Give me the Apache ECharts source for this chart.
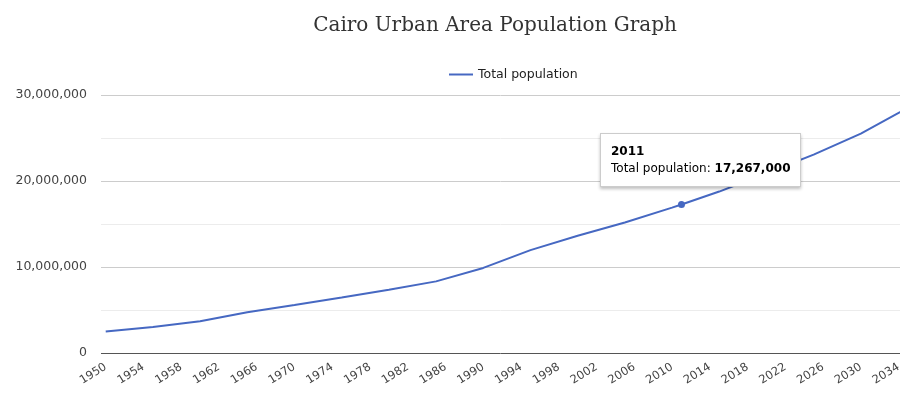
<!DOCTYPE html>
<html>
<head>
<meta charset="utf-8">
<script src="https://cdn.jsdelivr.net/npm/echarts@6/dist/echarts.min.js"></script>
<style>
html,body{margin:0;padding:0;background:#fff;}
#chart{width:900px;height:393px;}
</style>
</head>
<body>
<div id="chart"></div>
<script>
// Data
const years = [1950, 1955, 1960, 1965, 1970, 1975, 1980, 1985, 1990, 1995, 2000, 2005, 2010, 2011, 2015, 2020, 2025, 2030, 2035];
const population = [2494000, 3029000, 3680000, 4738000, 5585000, 6450000, 7349000, 8328000, 9892000, 11962000, 13626000, 15174000, 16899000, 17267000, 18772000, 20901000, 23074000, 25517000, 28504000];
const xTickLabels = [1950, 1954, 1958, 1962, 1966, 1970, 1974, 1978, 1982, 1986, 1990, 1994, 1998, 2002, 2006, 2010, 2014, 2018, 2022, 2026, 2030, 2034];
const highlightYear = 2011;
const seriesName = 'Total population';

const chart = echarts.init(document.getElementById('chart'), null, {renderer: 'canvas'});
const fmt = v => v.toLocaleString('en-US');

const seriesData = years.map((y, i) => {
  if (y === highlightYear) {
    return {value: [y, population[i]], symbol: 'circle', symbolSize: 7};
  }
  return [y, population[i]];
});

const option = {
  animation: false,
  title: {
    text: 'Cairo Urban Area Population Graph',
    left: 490,
    top: 11,
    textAlign: 'center',
    textStyle: {fontFamily: 'DejaVu Serif', fontWeight: 'normal', fontSize: 20, color: '#333'}
  },
  legend: {
    left: 444,
    top: 63,
    icon: 'rect',
    itemWidth: 24,
    itemHeight: 2,
    itemGap: 5,
    textStyle: {fontFamily: 'DejaVu Sans', fontSize: 12.5, color: '#222'},
    data: [seriesName]
  },
  tooltip: {
    trigger: 'item',
    alwaysShowContent: true,
    showDelay: 0,
    transitionDuration: 0,
    position: [600, 133],
    backgroundColor: '#fff',
    borderColor: '#ccc',
    borderWidth: 1,
    padding: [9, 10],
    extraCssText: 'box-shadow:0 2px 3px rgba(0,0,0,0.25);border-radius:0;',
    textStyle: {fontFamily: 'DejaVu Sans', fontSize: 12, color: '#000'},
    formatter: p => '<div style="font-family:DejaVu Sans;font-size:12px;line-height:17px;color:#000">' +
      '<b>' + p.value[0] + '</b><br/>' + p.seriesName + ': <b>' + fmt(p.value[1]) + '</b></div>'
  },
  grid: {left: 101, right: 0, top: 95, bottom: 40, outerBoundsMode: 'none', containLabel: false},
  xAxis: {
    type: 'value',
    min: 1949.5,
    max: 2034.15,
    axisLine: {show: false},
    axisTick: {show: false},
    splitLine: {show: false},
    axisLabel: {
      customValues: xTickLabels,
      rotate: 32,
      margin: 13,
      fontFamily: 'DejaVu Sans',
      fontSize: 11.5,
      color: '#444',
      formatter: v => String(v)
    }
  },
  yAxis: {
    type: 'value',
    min: 0,
    max: 30000000,
    interval: 10000000,
    axisLine: {show: false},
    axisTick: {show: false},
    axisLabel: {
      margin: 14,
      fontFamily: 'DejaVu Sans',
      fontSize: 12.5,
      color: '#444',
      formatter: v => fmt(v)
    },
    splitLine: {lineStyle: {color: ['#555', '#ccc', '#ccc', '#ccc'], width: 1}},
    minorTick: {show: false, splitNumber: 2},
    minorSplitLine: {show: true, lineStyle: {color: '#ececec', width: 1}}
  },
  series: [{
    name: seriesName,
    type: 'line',
    data: seriesData,
    symbol: 'none',
    showSymbol: true,
    clip: true,
    lineStyle: {color: '#4668c2', width: 2},
    itemStyle: {color: '#4668c2'},
    emphasis: {scale: false, lineStyle: {width: 2}},
    z: 3
  }]
};

chart.setOption(option);
const idx = years.indexOf(highlightYear);
chart.dispatchAction({type: 'showTip', seriesIndex: 0, dataIndex: idx});
</script>
</body>
</html>
